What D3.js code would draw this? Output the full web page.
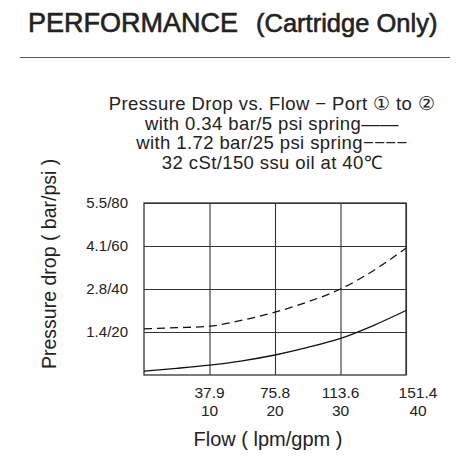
<!DOCTYPE html>
<html>
<head>
<meta charset="utf-8">
<script src="https://cdn.jsdelivr.net/npm/d3@7"></script>
<style>
  body { margin: 0; background: #fff; }
  svg { display: block; font-family: "Liberation Sans", Arial, sans-serif; }
</style>
</head>
<body>
<svg id="chart" width="458" height="460"></svg>
<script>
// flow in gpm, pressure drop in psi
var flowGpm = [0, 5, 10, 15, 20, 25, 30, 35, 40];
var lightSpringPsi = [1.8, 3.1, 4.6, 6.6, 9.3, 12.8, 17, 23, 30];
var heavySpringPsi = [21.5, 22, 22.7, 25.5, 29.2, 34, 40, 48.5, 59];

var xTicks = [10, 20, 30, 40];
var xTickLpm = ["37.9", "75.8", "113.6", "151.4"];
var xTickGpm = ["10", "20", "30", "40"];
var yTicks = [20, 40, 60, 80];
var yTickLabels = ["1.4/20", "2.8/40", "4.1/60", "5.5/80"];

var subtitle = [
  "Pressure Drop vs. Flow \u2212 Port \u2460 to \u2461",
  "with 0.34 bar/5 psi spring\u2014\u2014",
  "with 1.72 bar/25 psi spring\u2212\u2212\u2212\u2212",
  "32 cSt/150 ssu oil at 40\u2103"
];

var svg = d3.select("#chart");
var margin = { top: 203, right: 52, bottom: 85, left: 144 };
var width = 458 - margin.left - margin.right;
var height = 460 - margin.top - margin.bottom;
var ink = "#222";

// heading
var head = svg.append("text")
    .attr("y", 32)
    .style("fill", ink)
    .style("stroke", ink)
    .style("stroke-width", 0.6);
head.append("tspan").attr("x", 28).style("font-size", "27px").text("PERFORMANCE");
head.append("tspan").attr("x", 256).style("font-size", "25.5px").text("(Cartridge Only)");

svg.append("line")
    .attr("x1", 20).attr("x2", 450)
    .attr("y1", 57.5).attr("y2", 57.5)
    .style("stroke", "#555")
    .style("stroke-width", 1.2);

svg.append("g").selectAll("text")
    .data(subtitle)
  .enter().append("text")
    .attr("x", 272)
    .attr("y", function(d, i) { return 110 + i * 19.6; })
    .attr("text-anchor", "middle")
    .style("font-size", "18.5px")
    .style("letter-spacing", "0.4px")
    .style("fill", ink)
    .text(function(d) { return d; });

var g = svg.append("g")
    .attr("transform", "translate(" + margin.left + "," + margin.top + ")");

var x = d3.scaleLinear().domain([0, 40]).range([0, width]);
var y = d3.scaleLinear().domain([0, 80]).range([height, 0]);

// grid
g.append("g")
    .attr("class", "grid")
    .attr("transform", "translate(0," + height + ")")
    .call(d3.axisBottom(x).tickValues(xTicks).tickSize(-height).tickFormat(""));
g.append("g")
    .attr("class", "grid")
    .call(d3.axisLeft(y).tickValues(yTicks).tickSize(-width).tickFormat(""));
g.selectAll(".grid .domain").remove();
g.selectAll(".grid line").style("stroke", "#333").style("stroke-width", 1.1);

g.append("rect")
    .attr("width", width)
    .attr("height", height)
    .style("fill", "none")
    .style("stroke", "#333")
    .style("stroke-width", 1.3);

// tick labels
g.selectAll(".ylab")
    .data(yTicks)
  .enter().append("text")
    .attr("class", "ylab")
    .attr("x", -16)
    .attr("y", function(d) { return y(d); })
    .attr("dy", "0.35em")
    .attr("text-anchor", "end")
    .style("font-size", "15px")
    .style("fill", ink)
    .text(function(d, i) { return yTickLabels[i]; });

var xl = g.selectAll(".xlab")
    .data(xTicks)
  .enter().append("text")
    .attr("class", "xlab")
    .attr("transform", function(d, i) {
      return "translate(" + (x(d) + (i == xTicks.length - 1 ? 12 : 0)) + "," + (height + 23) + ")";
    })
    .attr("text-anchor", "middle")
    .style("font-size", "15.5px")
    .style("fill", ink);
xl.append("tspan").attr("x", 0).attr("y", 0).text(function(d, i) { return xTickLpm[i]; });
xl.append("tspan").attr("x", 0).attr("y", 17.5).text(function(d, i) { return xTickGpm[i]; });

// axis titles
svg.append("text")
    .attr("x", 268)
    .attr("y", 446)
    .attr("text-anchor", "middle")
    .style("font-size", "20px")
    .style("fill", ink)
    .text("Flow ( lpm/gpm )");

svg.append("text")
    .attr("transform", "translate(56,369) rotate(-90)")
    .attr("text-anchor", "start")
    .style("font-size", "19.5px")
    .style("fill", ink)
    .text("Pressure drop ( bar/psi )");

// curves
var line = d3.line()
    .x(function(d) { return x(d[0]); })
    .y(function(d) { return y(d[1]); })
    .curve(d3.curveMonotoneX);

g.append("path")
    .datum(d3.zip(flowGpm, lightSpringPsi))
    .attr("d", line)
    .style("fill", "none")
    .style("stroke", "#111")
    .style("stroke-width", 1.3);

g.append("path")
    .datum(d3.zip(flowGpm, heavySpringPsi))
    .attr("d", line)
    .style("fill", "none")
    .style("stroke", "#111")
    .style("stroke-width", 1.3)
    .style("stroke-dasharray", "8,5");
</script>
</body>
</html>
